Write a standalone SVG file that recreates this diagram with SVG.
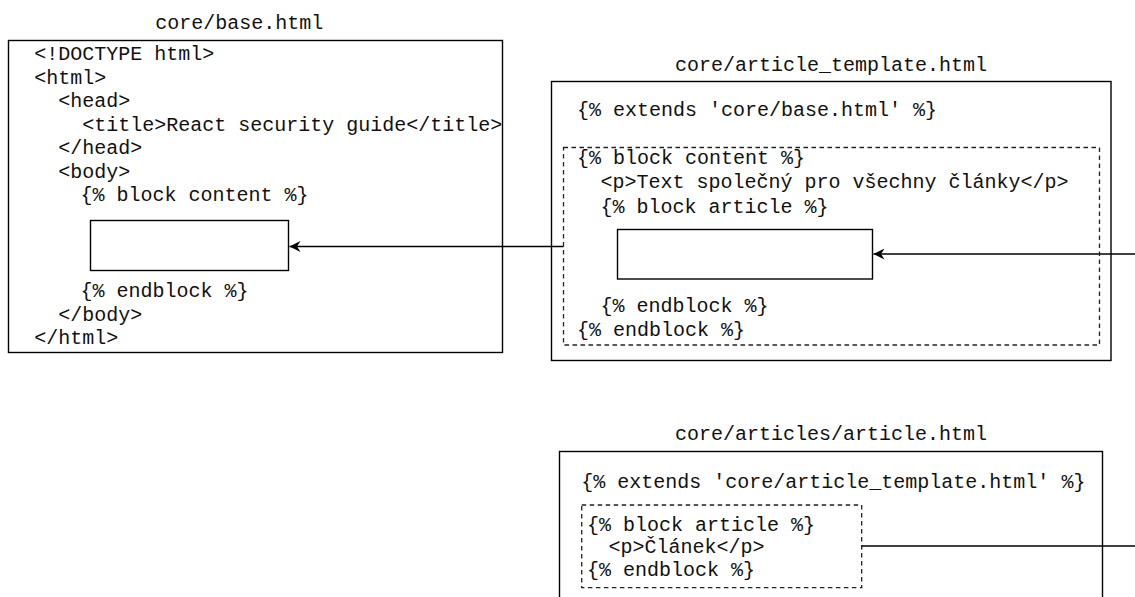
<svg xmlns="http://www.w3.org/2000/svg" width="1135" height="597" viewBox="0 0 1135 597">
  <style>
    .box { fill: #ffffff; stroke: #000000; stroke-width: 1.4; }
    .slot { fill: #ffffff; stroke: #000000; stroke-width: 1.4; }
    .block { fill: none; stroke: #222222; stroke-width: 1.3; stroke-dasharray: 4.5 3.5; }
    .code { font-family: "Liberation Mono", "DejaVu Sans Mono", monospace; font-size: 20px; fill: #111111; }
    .title { text-anchor: middle; }
    .link { fill: none; stroke: #000000; stroke-width: 1.4; }
  </style>
  <defs>
    <marker id="arrow" markerUnits="userSpaceOnUse" markerWidth="14" markerHeight="14" refX="0" refY="0" viewBox="-12 -7 14 14" orient="auto">
      <path d="M0,0 L-11,-5.5 L-7.5,0 L-11,5.5 Z" fill="#000000"/>
    </marker>
  </defs>

  <rect width="1135" height="597" fill="#ffffff"/>

  <!-- core/base.html -->
  <g id="base">
    <text class="code title" x="239.2" y="29">core/base.html</text>
    <rect class="box" x="8.5" y="40.5" width="494" height="312"/>
    <text class="code" x="34.2" y="60">&lt;!DOCTYPE html&gt;</text>
    <text class="code" x="34.2" y="83.5">&lt;html&gt;</text>
    <text class="code" x="58.2" y="107">&lt;head&gt;</text>
    <text class="code" x="82.2" y="130.5">&lt;title&gt;React security guide&lt;/title&gt;</text>
    <text class="code" x="58.2" y="154">&lt;/head&gt;</text>
    <text class="code" x="58.2" y="177.5">&lt;body&gt;</text>
    <text class="code" x="80.5" y="201">{% block content %}</text>
    <rect id="base-content-slot" class="slot" x="90.5" y="220.5" width="198" height="50"/>
    <text class="code" x="80.5" y="297">{% endblock %}</text>
    <text class="code" x="58.2" y="320.5">&lt;/body&gt;</text>
    <text class="code" x="34.2" y="344">&lt;/html&gt;</text>
  </g>

  <!-- core/article_template.html -->
  <g id="article-template">
    <text class="code title" x="831" y="71">core/article_template.html</text>
    <rect class="box" x="551.5" y="81.5" width="559.5" height="279"/>
    <text class="code" x="577" y="115.5">{% extends 'core/base.html' %}</text>
    <rect id="template-content-block" class="block" x="563.5" y="147.5" width="536" height="197.5"/>
    <text class="code" x="577" y="164">{% block content %}</text>
    <text class="code" x="600.5" y="188.3">&lt;p&gt;Text společný pro všechny články&lt;/p&gt;</text>
    <text class="code" x="600.5" y="212.5">{% block article %}</text>
    <rect id="template-article-slot" class="slot" x="617.5" y="229.5" width="255" height="49.5"/>
    <text class="code" x="600.5" y="311.7">{% endblock %}</text>
    <text class="code" x="577" y="335.7">{% endblock %}</text>
  </g>

  <!-- core/articles/article.html -->
  <g id="article">
    <text class="code title" x="831" y="440">core/articles/article.html</text>
    <rect class="box" x="559.5" y="451.5" width="543" height="200"/>
    <text class="code" x="581.3" y="488">{% extends 'core/article_template.html' %}</text>
    <rect id="article-block" class="block" x="581.7" y="505" width="280" height="82.7"/>
    <text class="code" x="587" y="531">{% block article %}</text>
    <text class="code" x="608.5" y="552.5">&lt;p&gt;Článek&lt;/p&gt;</text>
    <text class="code" x="587" y="576">{% endblock %}</text>
  </g>

  <!-- inheritance connectors -->
  <g id="connectors">
    <line class="link" x1="563.5" y1="246.5" x2="289.5" y2="246.5" marker-end="url(#arrow)"/>
    <line class="link" x1="1135" y1="254" x2="873.5" y2="254" marker-end="url(#arrow)"/>
    <line class="link" x1="861.7" y1="546" x2="1135" y2="546"/>
  </g>
</svg>
